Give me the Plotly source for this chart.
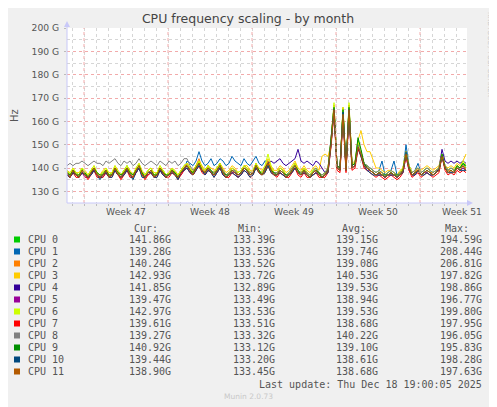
import pandas as pd
import plotly.graph_objects as go

# sample times: one point every 6 hours over the month window
times = pd.date_range("2025-11-15 14:00", periods=134, freq="6h")
x_range = ["2025-11-15 14:00", "2025-12-18 22:00"]
week_starts = pd.to_datetime(["2025-11-17", "2025-11-24", "2025-12-01", "2025-12-08", "2025-12-15"])
week_labels = ["Week 47", "Week 48", "Week 49", "Week 50", "Week 51"]

y_ticks = [130, 140, 150, 160, 170, 180, 190, 200]

cpu_names = ["CPU 0", "CPU 1", "CPU 2", "CPU 3", "CPU 4", "CPU 5",
             "CPU 6", "CPU 7", "CPU 8", "CPU 9", "CPU 10", "CPU 11"]
cpu_colors = ["#00CC00", "#0066B3", "#FF8000", "#FFCC00", "#330099", "#990099",
              "#CCFF00", "#FF0000", "#808080", "#008F00", "#00487D", "#B35A00"]

# frequencies in GHz (G)
cpu0 = [139,137,139,138, 137,140,137,137, 139,140,138,137, 138,139,137,138, 140,138,137,139, 141,138,137,139, 141,138,137,139, 140,137,138,140, 139,137,138,140, 138,137,139,141,
        142,140,138,141, 143,140,139,141, 139,138,140,142, 139,137,138,140, 139,138,139,141, 140,138,139,141, 139,138,140,143, 140,138,138,140, 139,137,138,140, 142,139,138,140, 138,137,139,140, 138,137,138,140,
        151,166,141,140, 165,140,166,141, 142,152,147,142, 141,140,139,138, 139,138,137,138, 139,138,137,138, 140,147,141,138, 139,140,138,139, 140,139,138,139, 140,146,141,139, 140,139,141,140, 142,140]
cpu1 = [138,136,138,137, 136,138,137,136, 137,139,137,136, 137,138,136,137, 139,137,136,138, 139,137,136,138, 140,137,136,138, 138,136,137,139, 138,136,137,139, 137,136,138,139,
        143,142,141,143, 147,143,141,142, 144,141,142,144, 143,141,142,145, 143,142,141,144, 142,141,143,145, 142,141,143,143, 139,137,137,139, 138,136,137,139, 140,138,137,139, 137,136,138,139, 137,136,137,139,
        151,167,141,140, 165,140,167,141, 142,150,146,142, 141,140,139,138, 139,143,137,138, 139,143,137,138, 139,150,141,138, 139,142,138,139, 140,139,138,139, 139,145,140,139, 140,139,140,139, 140,139]
cpu2 = [138,137,139,137, 137,139,138,136, 138,140,137,137, 137,139,137,137, 140,138,136,138, 140,138,136,139, 141,138,136,138, 139,137,137,140, 138,137,137,139, 138,136,138,140,
        142,140,138,141, 144,140,138,141, 139,138,140,142, 139,137,138,140, 139,137,138,141, 140,138,138,142, 139,137,140,143, 140,138,138,140, 139,137,137,139, 142,139,138,140, 138,137,138,139, 138,136,137,140,
        152,166,140,139, 166,139,167,141, 142,151,147,142, 140,139,138,137, 138,138,137,137, 138,137,137,138, 140,147,140,137, 138,140,137,138, 139,138,138,139, 140,146,140,139, 139,138,141,140, 141,140]
cpu3 = [139,138,140,138, 138,140,139,137, 139,141,138,137, 139,140,138,138, 141,139,137,139, 141,139,137,140, 142,139,137,139, 140,138,138,141, 139,137,138,140, 139,137,139,141,
        142,140,139,141, 143,141,139,141, 140,139,140,142, 140,138,139,141, 140,138,139,141, 141,139,139,142, 140,139,141,144, 141,139,139,141, 140,138,139,141, 143,140,139,141, 139,138,140,141, 139,145,146,145,
        150,167,141,140, 165,140,166,142, 143,152,156,150, 147,147,143,140, 140,139,138,139, 139,138,137,139, 140,147,141,138, 139,140,139,140, 141,140,139,140, 141,146,141,140, 141,140,142,141, 143,146]
cpu4 = [138,136,139,137, 136,138,137,136, 138,139,137,136, 137,139,136,137, 139,137,136,138, 140,137,136,138, 140,137,136,138, 139,136,137,139, 138,136,137,139, 137,136,138,139,
        141,139,137,140, 142,139,138,140, 138,137,139,141, 138,136,137,139, 138,137,138,140, 139,137,138,141, 139,138,140,142, 143,142,143,144, 142,141,142,143, 144,148,143,142, 143,142,141,143, 142,140,138,139,
        151,166,141,140, 164,140,166,141, 142,150,146,142, 140,139,138,137, 138,137,136,137, 138,137,136,137, 139,146,140,137, 138,139,137,138, 139,138,137,138, 140,148,143,142, 143,142,143,142, 143,142]
cpu5 = [137,136,138,137, 136,138,136,136, 137,139,137,136, 136,138,136,137, 139,137,136,137, 139,137,136,138, 140,137,136,137, 138,136,137,139, 137,136,137,138, 137,136,137,139,
        140,138,137,139, 141,139,137,139, 138,137,138,140, 137,136,137,138, 138,136,137,139, 138,137,138,140, 138,137,139,141, 139,137,137,138, 137,136,137,138, 140,138,137,138, 137,136,137,138, 137,136,137,138,
        150,165,140,139, 163,139,164,140, 141,149,145,141, 139,139,138,137, 137,137,136,137, 137,137,136,137, 138,145,139,137, 137,139,137,138, 138,137,137,138, 139,146,140,138, 139,138,140,139, 140,139]
cpu6 = [139,137,140,138, 137,140,138,137, 139,141,138,137, 138,140,137,138, 141,138,137,139, 141,138,137,140, 142,138,137,139, 140,137,138,141, 139,137,138,140, 138,137,139,141,
        142,140,138,141, 143,140,139,141, 139,138,140,142, 139,137,138,140, 139,138,139,141, 140,138,139,142, 139,138,141,146, 141,138,138,140, 139,137,138,140, 142,139,138,140, 138,137,139,140, 138,137,138,140,
        152,168,141,140, 166,140,168,142, 142,151,147,142, 141,140,139,138, 139,138,137,138, 139,138,137,138, 140,147,141,138, 139,140,138,139, 140,139,138,139, 140,146,141,139, 140,139,141,140, 143,141]
cpu7 = [137,136,138,136, 136,138,137,135, 137,139,136,136, 136,138,136,136, 139,137,135,137, 139,136,136,138, 140,137,135,137, 138,136,136,139, 137,136,136,138, 137,135,137,139,
        140,138,137,139, 141,138,137,139, 138,136,138,140, 137,136,136,138, 137,136,137,139, 138,136,137,140, 138,137,138,141, 138,137,136,138, 137,136,136,138, 140,137,136,138, 136,136,137,138, 136,136,136,138,
        149,164,139,138, 162,138,163,139, 140,148,145,140, 139,138,137,136, 137,136,135,136, 137,136,135,136, 138,145,139,136, 137,138,136,137, 138,137,136,137, 138,145,139,137, 138,137,139,138, 139,138]
cpu8 = [141,142,141,142, 142,143,142,141, 142,143,142,142, 141,143,142,143, 144,142,141,143, 142,143,141,142, 144,142,141,142, 143,142,141,143, 142,141,143,142, 143,141,142,144,
        144,141,139,140, 141,139,138,140, 139,138,139,141, 139,137,138,139, 139,137,138,140, 139,138,138,141, 139,137,139,141, 139,138,138,139, 138,137,138,140, 141,139,138,139, 138,137,138,140, 138,137,138,140,
        151,165,141,140, 164,140,165,141, 142,150,146,142, 141,140,139,138, 139,138,137,138, 139,138,137,138, 139,146,140,138, 139,140,138,139, 140,139,138,139, 140,145,141,139, 140,139,140,140, 141,139]
cpu9 = [138,137,139,137, 137,139,138,136, 138,140,138,137, 137,139,137,137, 140,138,137,138, 140,138,137,139, 141,138,136,138, 139,137,137,140, 138,137,137,139, 138,136,138,140,
        141,139,138,140, 142,139,138,140, 139,137,139,141, 138,137,137,139, 138,137,138,140, 139,137,138,141, 139,137,139,142, 139,138,137,139, 138,137,137,139, 141,139,137,139, 137,136,138,139, 138,136,137,139,
        151,166,141,140, 165,140,166,141, 142,153,148,142, 140,139,138,137, 138,137,137,137, 138,137,137,137, 139,146,140,137, 138,139,137,138, 139,138,137,138, 139,146,140,138, 139,138,141,140, 142,141]
cpu10 = [137,136,138,137, 136,138,137,136, 137,139,137,135, 137,138,136,136, 139,137,136,137, 139,137,135,138, 140,136,136,138, 138,136,136,139, 137,136,137,138, 137,135,138,139,
         140,138,137,139, 141,139,137,139, 138,136,138,140, 137,136,137,138, 137,136,137,139, 138,136,137,140, 138,137,138,141, 138,137,137,138, 137,136,137,138, 140,138,137,138, 137,136,137,138, 137,136,137,138,
         150,165,140,139, 164,139,165,140, 141,149,145,141, 139,138,137,137, 137,137,136,137, 137,137,136,137, 138,147,140,137, 137,139,137,137, 138,137,137,138, 139,145,140,138, 138,138,140,139, 139,139]
cpu11 = [138,136,139,137, 136,139,137,136, 138,140,137,136, 137,139,136,137, 140,137,136,138, 140,137,136,139, 141,137,136,138, 139,136,137,140, 138,136,137,139, 137,136,138,140,
         141,139,137,140, 142,139,138,140, 138,137,139,141, 138,136,137,139, 138,137,138,140, 139,137,138,141, 138,137,139,142, 139,137,137,139, 138,136,137,139, 141,138,137,139, 137,136,138,139, 137,136,137,139,
         150,165,140,139, 163,139,165,140, 141,149,146,141, 140,139,138,137, 138,137,136,137, 138,137,136,137, 139,146,140,137, 138,139,137,138, 139,138,137,138, 139,145,140,138, 139,138,140,139, 141,139]
cpu_series = [cpu0, cpu1, cpu2, cpu3, cpu4, cpu5, cpu6, cpu7, cpu8, cpu9, cpu10, cpu11]

# legend statistics (G)
cur_vals = [141.86, 139.28, 140.24, 142.93, 141.85, 139.47, 142.97, 139.61, 139.27, 140.92, 139.44, 138.90]
min_vals = [133.39, 133.53, 133.52, 133.72, 132.89, 133.49, 133.53, 133.51, 133.32, 133.12, 133.20, 133.45]
avg_vals = [139.15, 139.74, 139.08, 140.53, 139.53, 138.94, 139.53, 138.68, 140.22, 139.10, 138.61, 138.68]
max_vals = [194.59, 208.44, 206.81, 197.82, 198.86, 196.77, 199.80, 197.95, 196.05, 195.83, 198.28, 197.63]

# the page puts the figure 8px in from the top-left corner, so the figure is
# sized and margined to land the plot area on window pixels x 67..467, y 28..203
PAGE_OFF = 8
W, H = 497 - PAGE_OFF, 407 - PAGE_OFF
L, R, T, B = 67 - PAGE_OFF, 30, 28 - PAGE_OFF, 204
PW, PH = W - L - R, H - T - B

# window pixel -> paper coordinate
def px(x):
    return (x - 67) / PW

def py(y):
    return (203 - y) / PH

fig = go.Figure()
for name, color, vals in zip(cpu_names, cpu_colors, cpu_series):
    fig.add_trace(go.Scatter(x=times, y=vals, mode="lines", name=name,
                             line=dict(color=color, width=1), showlegend=False))

tick_font = dict(family="DejaVu Sans", size=9.2, color="#555555")
mono = dict(family="DejaVu Sans Mono", size=10, color="#555555")

fig.update_layout(
    width=W, height=H,
    margin=dict(l=L, r=R, t=T, b=B),
    paper_bgcolor="#F0F0F0", plot_bgcolor="#FFFFFF",
    title=dict(text="CPU frequency scaling - by month", x=(248 - PAGE_OFF) / W, xanchor="center",
               y=1 - (19 - PAGE_OFF) / H, yanchor="middle",
               font=dict(family="DejaVu Sans", size=12.5, color="#444444")),
)

fig.update_xaxes(
    type="date", range=x_range,
    tickmode="array", tickvals=week_starts + pd.Timedelta(hours=84), ticktext=week_labels,
    showgrid=False, ticks="", tickfont=tick_font, ticklabelstandoff=2,
    showline=False, zeroline=False,
    minor=dict(tickmode="linear", tick0="2025-11-17", dtick=86400000,
               showgrid=True, gridcolor="#D6D6D6", griddash="dot", gridwidth=1,
               ticks="outside", ticklen=2, tickcolor="#BBBBBB"),
)
fig.update_yaxes(
    range=[125, 200],
    tickmode="array", tickvals=y_ticks, ticktext=[f"{v} G" for v in y_ticks],
    showgrid=True, gridcolor="#F2AAAA", griddash="dot", gridwidth=1,
    ticks="outside", ticklen=2, tickcolor="#BBBBBB",
    tickfont=tick_font, ticklabelstandoff=3,
    showline=False, zeroline=False,
    minor=dict(tickmode="linear", tick0=125, dtick=5,
               showgrid=True, gridcolor="#D6D6D6", griddash="dot", gridwidth=1),
)

# week boundary grid lines
for ws in week_starts:
    fig.add_shape(type="line", x0=ws, x1=ws, xref="x", y0=0, y1=1, yref="paper",
                  line=dict(color="#F2AAAA", width=1, dash="dot"))

# axis arrows
axis_col = "#C8C8F8"
fig.add_shape(type="line", xref="paper", yref="paper", x0=0, x1=px(470), y0=0, y1=0,
              line=dict(color=axis_col, width=1))
fig.add_shape(type="path", xref="paper", yref="paper",
              path=f"M {px(467)},{py(200)} L {px(473)},{py(203)} L {px(467)},{py(206)} Z",
              fillcolor=axis_col, line=dict(color=axis_col, width=0))
fig.add_shape(type="line", xref="paper", yref="paper", x0=0, x1=0, y0=0, y1=py(25),
              line=dict(color=axis_col, width=1))
fig.add_shape(type="path", xref="paper", yref="paper",
              path=f"M {px(64)},{py(27)} L {px(67)},{py(21)} L {px(70)},{py(27)} Z",
              fillcolor=axis_col, line=dict(color=axis_col, width=0))

annotations = []
annotations.append(dict(text="Hz", x=px(14.5), y=0.5, xref="paper", yref="paper",
                        xanchor="center", yanchor="middle",
                        textangle=-90, showarrow=False,
                        font=dict(family="DejaVu Sans", size=10, color="#555555")))
annotations.append(dict(text="RRDTOOL / TOBI OETIKER", x=px(490), y=py(54),
                        xref="paper", yref="paper", xanchor="center", yanchor="middle",
                        textangle=90, showarrow=False,
                        font=dict(family="DejaVu Sans", size=6.6, color="#C8C8C8")))

# legend table
header_y = 228
for label, right in zip(["Cur:", "Min:", "Avg:", "Max:"], [159.3, 263, 366.7, 470]):
    annotations.append(dict(text=label, x=px(right + 1), y=py(header_y), xref="paper", yref="paper",
                            xanchor="right", yanchor="middle", showarrow=False, font=mono))
col_rights = [171.7, 276, 379, 482.7]
for k, name in enumerate(cpu_names):
    row_y = 239.5 + 12 * k
    fig.add_shape(type="rect", xref="paper", yref="paper",
                  x0=px(14), x1=px(20), y0=py(row_y + 3), y1=py(row_y - 3),
                  fillcolor=cpu_colors[k], line=dict(width=0))
    annotations.append(dict(text=name, x=px(25.5), y=py(row_y), xref="paper", yref="paper",
                            xanchor="left", yanchor="middle", showarrow=False, font=mono))
    for vals, right in zip([cur_vals, min_vals, avg_vals, max_vals], col_rights):
        annotations.append(dict(text=f"{vals[k]:.2f}G", x=px(right + 1), y=py(row_y),
                                xref="paper", yref="paper", xanchor="right", yanchor="middle",
                                showarrow=False, font=mono))

annotations.append(dict(text="Last update: Thu Dec 18 19:00:05 2025", x=px(483.7), y=py(384),
                        xref="paper", yref="paper", xanchor="right", yanchor="middle",
                        showarrow=False, font=mono))
annotations.append(dict(text="Munin 2.0.73", x=px(248), y=py(396.5), xref="paper", yref="paper",
                        xanchor="center", yanchor="middle", showarrow=False,
                        font=dict(family="DejaVu Sans", size=7.5, color="#C8C8C8")))
fig.update_layout(annotations=annotations)

fig.write_html("out.html")
